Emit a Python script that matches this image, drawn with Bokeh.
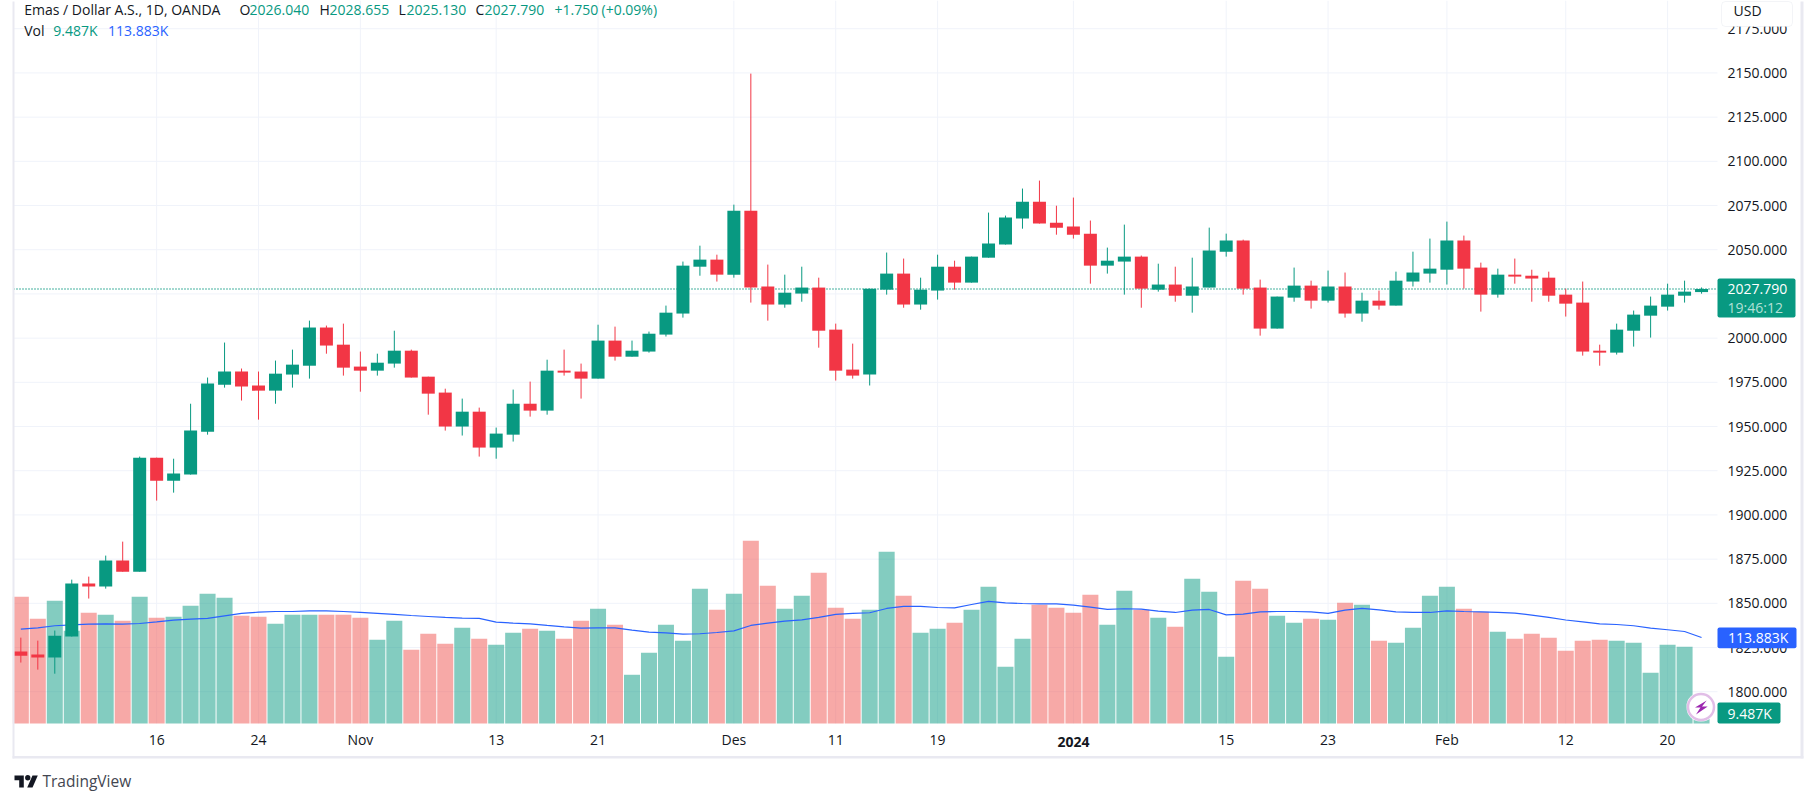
from bokeh.plotting import figure
from bokeh.embed import file_html
from bokeh.resources import INLINE
from bokeh.models import (Range1d, LinearAxis, FixedTicker, ColumnDataSource, Label,
                          BoxAnnotation, PolyAnnotation, NumeralTickFormatter)

opens = [1822.7,1821.0,1819.3,1831.2,1861.2,1859.5,1874.2,1867.9,1932.4,1919.4,
         1922.8,1947.1,1973.7,1981.1,1973.2,1970.3,1979.4,1984.4,2006.0,1996.3,
         1983.9,1981.6,1985.6,1992.9,1978.2,1969.2,1950.0,1958.4,1938.1,1945.4,
         1962.9,1959.0,1981.6,1981.1,1977.1,1998.6,1989.5,1992.4,2002.0,2013.9,
         2040.4,2044.4,2035.9,2072.1,2029.2,2019.0,2025.2,2028.6,2004.8,1982.2,
         1979.4,2027.4,2036.5,2019.0,2026.9,2040.4,2031.4,2045.5,2052.9,2067.6,
         2077.2,2065.3,2063.1,2059.1,2041.0,2043.3,2046.1,2027.4,2030.3,2024.0,
         2028.6,2048.9,2055.2,2028.6,2005.4,2022.9,2029.7,2021.2,2029.2,2013.9,
         2021.2,2018.4,2032.0,2036.5,2038.7,2055.2,2039.9,2024.6,2035.9,2035.3,
         2034.2,2024.6,2020.1,1992.9,1991.8,2004.2,2012.7,2017.8,2024.0,2026.04]
highs = [1830.6,1828.9,1834.6,1863.4,1865.1,1877.0,1884.9,1933.0,1932.4,1931.8,
         1962.9,1977.7,1997.5,1982.8,1981.1,1987.3,1993.5,2009.9,2007.1,2008.2,
         1992.4,1991.2,2004.2,1993.5,1978.2,1971.4,1965.8,1960.7,1949.4,1970.9,
         1975.4,1987.8,1993.5,1985.6,2007.6,2006.5,1998.6,2003.7,2018.4,2043.3,
         2052.3,2047.2,2075.5,2149.6,2041.6,2035.9,2040.4,2034.2,2008.2,1996.9,
         2028.0,2048.4,2045.0,2034.2,2047.2,2043.8,2046.1,2071.0,2069.3,2084.6,
         2089.1,2074.9,2079.5,2066.5,2051.2,2064.2,2046.7,2042.1,2040.4,2045.5,
         2062.5,2059.1,2055.7,2033.1,2023.5,2039.9,2032.5,2038.2,2037.1,2025.7,
         2026.9,2037.6,2048.9,2056.3,2065.9,2058.0,2042.7,2039.3,2045.0,2038.7,
         2037.6,2028.0,2032.0,1996.3,2008.2,2015.6,2023.5,2030.8,2032.5,2028.655]
lows = [1816.5,1812.5,1810.2,1831.2,1852.7,1858.3,1867.9,1867.9,1908.1,1912.6,
        1922.8,1945.4,1972.0,1964.7,1953.9,1962.9,1972.0,1977.1,1991.2,1978.8,
        1969.7,1978.8,1983.3,1977.7,1956.7,1947.7,1944.9,1933.0,1931.8,1941.5,
        1955.6,1956.7,1978.8,1965.8,1977.1,1987.3,1989.5,1991.8,2000.9,2011.6,
        2035.3,2032.0,2034.2,2020.1,2009.9,2017.2,2020.6,1994.6,1976.0,1977.1,
        1973.2,2024.6,2017.2,2016.1,2021.8,2027.4,2031.4,2045.5,2052.9,2061.9,
        2064.8,2058.5,2056.3,2030.8,2036.5,2024.6,2017.2,2026.3,2020.6,2014.4,
        2028.6,2046.1,2024.6,2001.4,2005.4,2020.6,2016.7,2020.1,2011.6,2009.3,
        2016.1,2018.4,2029.2,2031.4,2030.3,2028.0,2015.0,2022.9,2030.8,2020.6,
        2020.6,2012.2,1990.1,1984.4,1990.7,1995.2,2000.3,2015.6,2020.1,2025.13]
closes = [1820.4,1819.3,1831.7,1861.2,1859.5,1874.2,1867.9,1932.4,1919.4,1923.4,
          1947.7,1974.3,1981.1,1972.6,1970.3,1979.9,1985.0,2006.0,1995.8,1983.3,
          1981.6,1986.1,1992.9,1977.7,1968.6,1950.0,1958.4,1938.1,1946.0,1962.9,
          1959.0,1981.6,1980.5,1977.1,1998.6,1989.5,1992.9,2002.5,2014.4,2041.0,
          2044.4,2035.9,2072.1,2028.6,2019.0,2025.7,2028.6,2004.2,1981.6,1978.8,
          2028.0,2036.5,2019.0,2027.4,2040.4,2031.4,2046.1,2053.5,2068.2,2077.2,
          2064.8,2062.5,2058.5,2041.0,2043.8,2046.1,2028.0,2030.3,2024.0,2029.2,
          2049.5,2055.2,2028.0,2005.4,2023.5,2029.7,2021.2,2029.2,2013.9,2021.2,
          2018.4,2032.5,2037.1,2039.3,2055.2,2039.3,2024.6,2035.9,2034.8,2033.7,
          2024.0,2019.5,1992.4,1991.8,2004.8,2013.3,2018.4,2024.6,2026.3,2027.79]
volumes = [167.7,138.6,162.5,122.7,146.6,143.9,136.0,167.7,139.9,141.3,
           155.8,171.7,166.4,142.6,141.3,132.0,143.9,143.9,143.9,143.9,
           139.9,110.8,136.0,97.6,118.8,105.5,126.7,112.1,104.2,120.1,
           125.4,122.7,112.1,136.0,151.9,130.7,64.5,93.6,130.7,109.5,
           178.3,150.5,171.7,241.9,182.3,151.9,169.0,199.5,153.2,138.6,
           150.5,227.3,169.0,120.1,125.4,133.3,150.5,181.0,75.1,112.1,
           157.2,153.2,146.6,170.4,130.7,175.7,150.5,139.9,128.0,191.6,
           174.4,88.3,188.9,178.3,142.6,133.3,138.6,137.3,159.8,157.2,
           109.5,106.8,126.7,169.0,181.0,151.9,147.9,121.4,112.1,118.8,
           113.5,96.3,109.5,110.8,109.5,106.8,67.1,104.2,101.6,9.487]
volume_ma = [124.9,126.7,129.4,130.7,131.6,132.0,131.6,132.4,134.6,136.9,
             138.2,139.1,142.6,145.7,147.4,148.3,148.3,149.2,149.2,148.3,
             147.0,145.7,144.4,143.0,141.7,140.4,139.5,139.1,134.2,132.9,
             132.0,129.8,128.0,126.3,126.7,126.7,123.6,121.0,120.1,118.3,
             118.8,120.5,122.7,129.8,132.9,135.5,137.3,140.4,144.4,145.7,
             146.6,152.3,155.0,155.0,153.6,153.2,157.6,161.6,159.8,158.9,
             158.5,158.5,156.7,154.1,151.0,151.9,151.4,148.8,147.0,150.1,
             151.0,143.9,144.8,147.9,148.3,148.3,147.9,145.7,150.1,152.3,
             150.5,147.9,147.0,147.0,149.2,148.3,147.9,147.0,146.1,143.5,
             140.4,137.0,134.6,132.0,131.1,129.4,126.3,124.1,121.8,113.883]
x_tick_index = [8,14,20,28,34,42,48,54,71,77,84,91,97]
x_tick_labels = ["16","24","Nov","13","21","Des","11","19","15","23","Feb","12","20"]
year_tick_index = 62
year_tick_label = "2024"
price_ticks = [1800,1825,1850,1875,1900,1925,1950,1975,2000,2025,2050,2075,2100,2125,2150,2175]

UP, DOWN = "#089981", "#F23645"
VOL_UP, VOL_DOWN = "rgba(8,153,129,0.5)", "rgba(239,83,80,0.5)"
BLUE, INK, GRID, EDGE = "#2962FF", "#131722", "#F0F3FA", "#E9E9F1"
FONT = "Open Sans"
FS = "14px"

n = len(closes)
idx = list(range(n))
src = ColumnDataSource(dict(
    x=idx, o=opens, h=highs, l=lows, c=closes, v=volumes,
    top=[max(a, b) for a, b in zip(opens, closes)],
    bot=[min(a, b) for a, b in zip(opens, closes)],
    col=[UP if c >= o else DOWN for o, c in zip(opens, closes)],
    vcol=[VOL_UP if c >= o else VOL_DOWN for o, c in zip(opens, closes)],
))

W, H = 1807, 794
L, R, B = 13, 1717, 723
X0, PITCH = 20.33, 16.977
PX_PER_USD, K_PER_PX = 1.768, 1.324


def xval(px):
    return (px - X0) / PITCH


def yval(px):
    return 2150 - (px - 72.43) / PX_PER_USD


# the drawing frame fills the canvas, so that the price tags, the footer and the
# time labels are not cut off at the edge of the plot
p = figure(width=W, height=H, output_backend="svg", toolbar_location=None,
           x_range=Range1d(xval(0), xval(W)), y_range=Range1d(yval(H), yval(0)),
           min_border_left=0, min_border_right=0, min_border_top=0, min_border_bottom=0,
           outline_line_color=None, background_fill_color="white")
p.extra_y_ranges = {"vol": Range1d((B - H) * K_PER_PX, B * K_PER_PX)}

p.xaxis.visible = False
p.yaxis.visible = False
p.xgrid.visible = False
p.ygrid.visible = False

bottom = LinearAxis(ticker=FixedTicker(ticks=x_tick_index),
                    major_label_overrides=dict(zip(x_tick_index, x_tick_labels)))
bottom.axis_line_color = None
bottom.major_tick_line_color = None
bottom.minor_tick_line_color = None
bottom.major_tick_in = 0
bottom.major_tick_out = 0
bottom.minor_tick_in = 0
bottom.minor_tick_out = 0
bottom.major_label_text_font = FONT
bottom.major_label_text_font_size = FS
bottom.major_label_text_color = INK
bottom.major_label_standoff = 729 - H
p.add_layout(bottom, "below")

right = LinearAxis(ticker=FixedTicker(ticks=price_ticks), formatter=NumeralTickFormatter(format="0.000"))
right.axis_line_color = None
right.major_tick_line_color = None
right.minor_tick_line_color = None
right.major_tick_in = 0
right.major_tick_out = 0
right.minor_tick_in = 0
right.minor_tick_out = 0
right.major_label_text_font = FONT
right.major_label_text_font_size = FS
right.major_label_text_color = INK
right.major_label_standoff = 1727 - W
p.add_layout(right, "right")

grid_x = x_tick_index + [year_tick_index]
p.segment(x0=grid_x, x1=grid_x, y0=yval(B), y1=yval(0), line_color=GRID, line_width=1)
p.segment(x0=xval(L), x1=xval(R), y0=price_ticks, y1=price_ticks, line_color=GRID, line_width=1)

p.vbar(x="x", top="v", bottom=0, width=16 / PITCH, source=src, fill_color="vcol",
       line_color=None, y_range_name="vol")
p.line(idx, volume_ma, line_color=BLUE, line_width=1.2, y_range_name="vol")
p.line([xval(L), xval(R)], [closes[-1], closes[-1]], line_color=UP, line_width=1.5, line_dash="1 2")
p.segment(x0="x", x1="x", y0="l", y1="h", source=src, line_color="col", line_width=1)
p.vbar(x="x", top="top", bottom="bot", width=13 / PITCH, source=src, fill_color="col", line_color=None)


def box(left, right_, top, bottom_, fill, line=None, radius=0, lw=1):
    p.add_layout(BoxAnnotation(left=left, right=right_, top=top, bottom=bottom_,
                               left_units="canvas", right_units="canvas",
                               top_units="canvas", bottom_units="canvas",
                               fill_color=fill, fill_alpha=1, line_color=line,
                               line_width=lw, border_radius=radius, level="annotation"))


def text(x, y, s, color=INK, bold=False, size=FS, align="left"):
    p.add_layout(Label(x=x, y=y, x_units="canvas", y_units="canvas", text=s, text_color=color,
                       text_font=FONT, text_font_size=size, text_baseline="middle", text_align=align,
                       text_font_style="bold" if bold else "normal", level="annotation"))


def poly(xs, ys, fill):
    p.add_layout(PolyAnnotation(xs=xs, ys=ys, xs_units="canvas", ys_units="canvas",
                                fill_color=fill, fill_alpha=1, line_color=None, level="annotation"))


# outer frame
box(12, 14, 1, 758, EDGE)
box(1800, 1803, 1, 758, EDGE)
box(12, 1803, 755.5, 758, EDGE)

# bold year tick on the time scale
p.add_layout(Label(x=year_tick_index, y=741, x_units="data", y_units="canvas", text=year_tick_label,
                   text_color=INK, text_font=FONT, text_font_size=FS, text_font_style="bold",
                   text_baseline="middle", text_align="center", level="annotation"))

# legend rows
text(23.7, 9, "Emas / Dollar A.S., 1D, OANDA")
for x, s, c in [(239, "O", INK), (249, "2026.040", UP), (319, "H", INK), (329, "2028.655", UP),
                (398, "L", INK), (406, "2025.130", UP), (475, "C", INK), (484, "2027.790", UP),
                (554, "+1.750", UP), (601, "(+0.09%)", UP)]:
    text(x, 9, s, c)
text(23.7, 30, "Vol")
text(52.8, 30, "9.487K", UP)
text(107.5, 30, "113.883K", BLUE)

# USD button
box(1721, 1792, 1, 26, "white", "#D8DBE4", radius=4)
text(1733, 10, "USD")

# price tags
box(1717, 1795, 278, 317, UP, radius=2)
text(1727, 288, "2027.790", "white")
text(1727, 306.7, "19:46:12", "#B3E0D7")
box(1717, 1796, 627, 647.7, BLUE, radius=2)
text(1727.5, 637, "113.883K", "white")
box(1717, 1780, 702, 723, UP, radius=2)
text(1727, 712.5, "9.487K", "white")

# lightning badge
box(1686, 1715, 692, 721, "white", radius=14)
box(1687.5, 1713.5, 693.5, 719.5, "white", "#9C27B0", radius=13, lw=2.5)
poly([1706.2, 1694.5, 1700, 1695.5, 1707.2, 1701.5], [700, 707, 707, 714, 706, 706], "#9C27B0")

# footer logo and name
poly([14, 23.3, 23.3, 18.7, 18.7, 14], [775, 775, 787, 787, 779.7, 779.7], "#131722")
poly([32, 37.3, 32, 26.7], [775, 775, 787, 787], "#131722")
box(24.6, 29.9, 774.6, 779.9, "#131722", radius=3)
text(42, 780, "TradingView", "#434651", size="15.5px")

open("out.html", "w").write(file_html(p, INLINE))
